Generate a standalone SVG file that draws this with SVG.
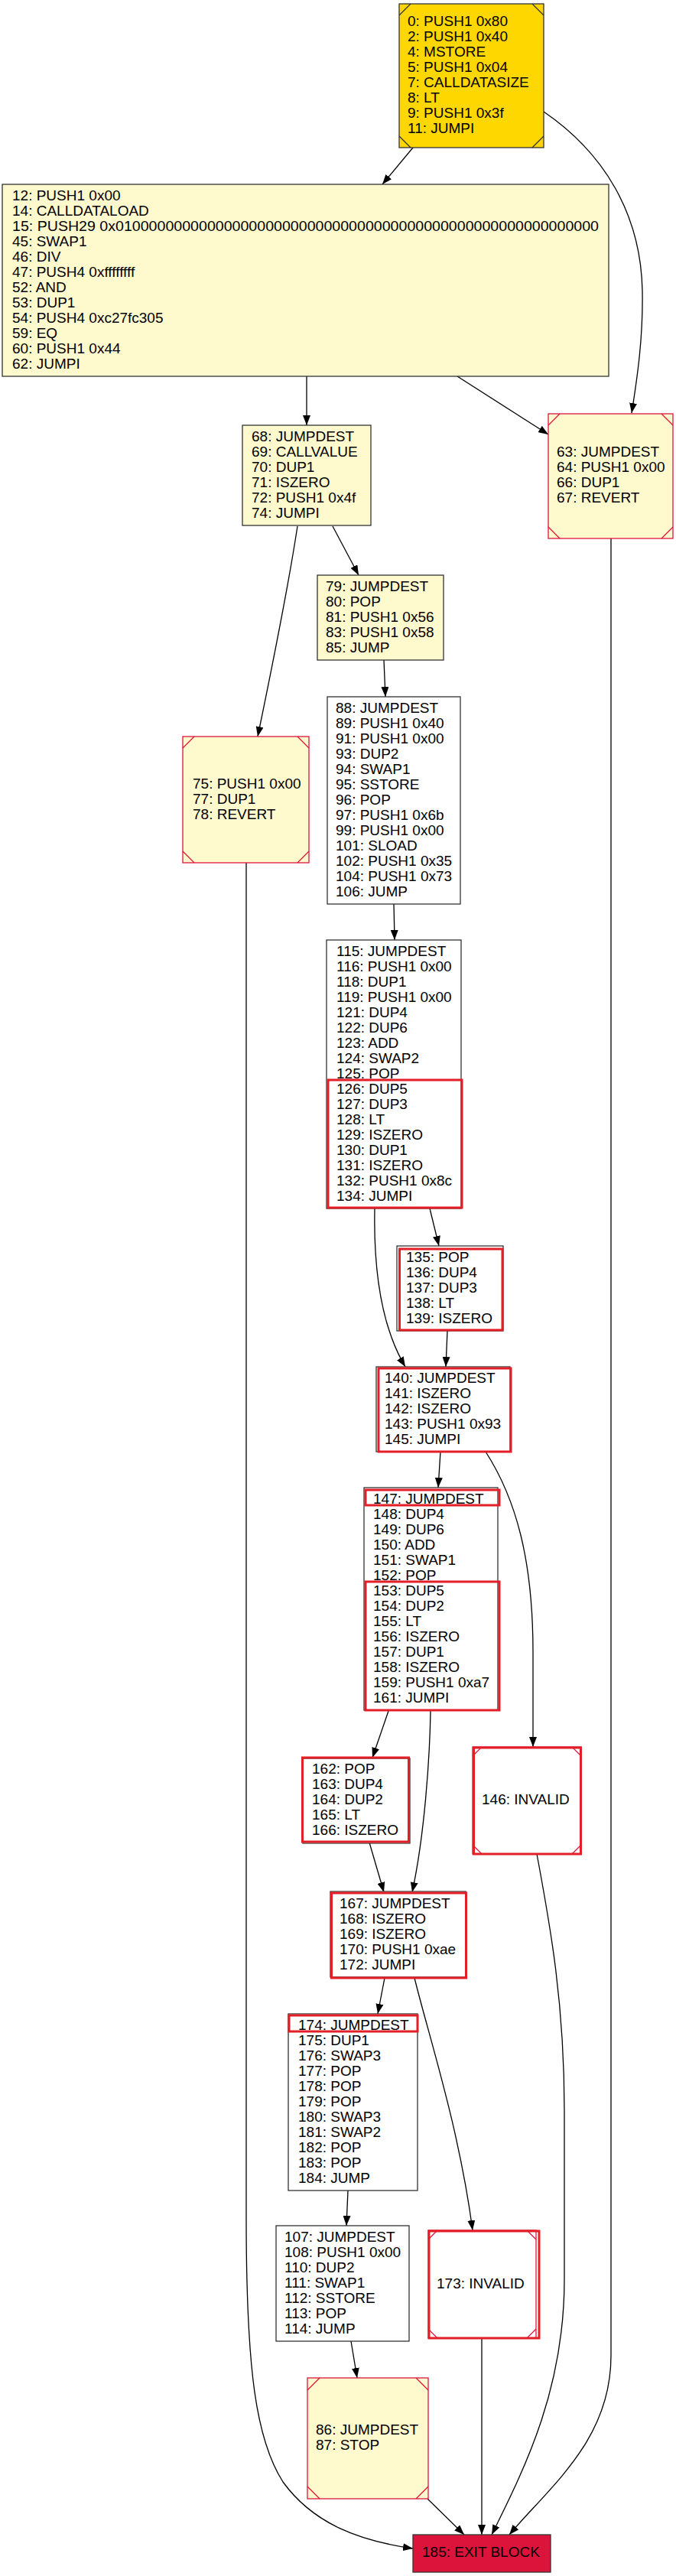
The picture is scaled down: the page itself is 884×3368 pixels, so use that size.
<svg xmlns="http://www.w3.org/2000/svg" width="884" height="3368" viewBox="0 0 884 3368">
<style>
text{font-family:"Liberation Sans",Arial,sans-serif;font-size:19px;fill:#000}
.box{stroke:#333;stroke-width:1.3}
.ms{stroke:#dc143c;stroke-width:1.3}
.msb{stroke:#333;stroke-width:1.3}
.cut{fill:none;stroke:#dc143c;stroke-width:1.3}
.cutb{fill:none;stroke:#333;stroke-width:1.3}
.hl{fill:none;stroke:#e41e26;stroke-width:3}
.lc{fill:#fffacd}
.wh{fill:#fff}
.edge{fill:none;stroke:#000;stroke-width:1.3;marker-end:url(#ah)}
</style>
<defs>
<marker id="ah" markerUnits="userSpaceOnUse" markerWidth="13" markerHeight="10" viewBox="0 0 13 10" refX="13" refY="5" orient="auto">
<path d="M0,0 L13,5 L0,10 z" fill="#000"/>
</marker>
</defs>
<rect width="884" height="3368" fill="#fff"/>
<g id="edges">
<path class="edge" d="M540,193 L500,241"/>
<path class="edge" d="M711,146 C790,200 838,280 840,380 C841,440 834,490 826,540"/>
<path class="edge" d="M401,492 L401,556"/>
<path class="edge" d="M598,492 L717,568"/>
<path class="edge" d="M435,688 L469,752"/>
<path class="edge" d="M389,688 C375,780 350,900 337,963"/>
<path class="edge" d="M502,863 L504,911"/>
<path class="edge" d="M322,1128 L322,2900 C322,3100 335,3190 370,3245 C410,3300 470,3322 540,3332"/>
<path class="edge" d="M515,1182 L516,1229"/>
<path class="edge" d="M562,1580 L574,1629"/>
<path class="edge" d="M490,1580 C488,1680 505,1745 530,1787"/>
<path class="edge" d="M585,1740 L583,1787"/>
<path class="edge" d="M576,1898 L573,1945"/>
<path class="edge" d="M635,1898 C675,1960 697,2040 697,2160 L697,2284"/>
<path class="edge" d="M508,2237 L487,2298"/>
<path class="edge" d="M563,2237 C562,2300 555,2400 539,2474"/>
<path class="edge" d="M483,2409 L502,2474"/>
<path class="edge" d="M702,2424 C720,2520 738,2620 738,2760 L738,2980 C738,3120 690,3220 643,3314"/>
<path class="edge" d="M503,2586 L494,2633"/>
<path class="edge" d="M542,2586 C560,2660 600,2780 618,2916"/>
<path class="edge" d="M455,2864 L453,2910"/>
<path class="edge" d="M459,3061 L467,3109"/>
<path class="edge" d="M559,3267 L607,3314"/>
<path class="edge" d="M630,3057 L630,3314"/>
<path class="edge" d="M799,704 L799,3080 C799,3190 720,3250 666,3314"/>
</g>
<g id="n0">
<rect x="522" y="5" width="189" height="188" fill="#ffd700" class="msb"/>
<path class="cutb" d="M537,5 L522,20 M696,5 L711,20 M522,178 L537,193 M711,178 L696,193"/>
<text x="533" y="34"><tspan x="533">0: PUSH1 0x80</tspan><tspan x="533" dy="20">2: PUSH1 0x40</tspan><tspan x="533" dy="20">4: MSTORE</tspan><tspan x="533" dy="20">5: PUSH1 0x04</tspan><tspan x="533" dy="20">7: CALLDATASIZE</tspan><tspan x="533" dy="20">8: LT</tspan><tspan x="533" dy="20">9: PUSH1 0x3f</tspan><tspan x="533" dy="20">11: JUMPI</tspan></text>
</g>
<g id="n12">
<rect x="3" y="241" width="793" height="251" class="box lc"/>
<text x="16" y="262"><tspan x="16">12: PUSH1 0x00</tspan><tspan x="16" dy="20">14: CALLDATALOAD</tspan></text>
<text x="16" y="302" textLength="767" lengthAdjust="spacingAndGlyphs">15: PUSH29 0x0100000000000000000000000000000000000000000000000000000000</text>
<text x="16" y="322"><tspan x="16">45: SWAP1</tspan><tspan x="16" dy="20">46: DIV</tspan><tspan x="16" dy="20">47: PUSH4 0xffffffff</tspan><tspan x="16" dy="20">52: AND</tspan><tspan x="16" dy="20">53: DUP1</tspan><tspan x="16" dy="20">54: PUSH4 0xc27fc305</tspan><tspan x="16" dy="20">59: EQ</tspan><tspan x="16" dy="20">60: PUSH1 0x44</tspan><tspan x="16" dy="20">62: JUMPI</tspan></text>
</g>
<g id="n63">
<rect x="717" y="541" width="163" height="163" class="ms lc"/>
<path class="cut" d="M732,541 L717,556 M865,541 L880,556 M717,689 L732,704 M880,689 L865,704"/>
<text x="728" y="597"><tspan x="728">63: JUMPDEST</tspan><tspan x="728" dy="20">64: PUSH1 0x00</tspan><tspan x="728" dy="20">66: DUP1</tspan><tspan x="728" dy="20">67: REVERT</tspan></text>
</g>
<g id="n68">
<rect x="317" y="556" width="168" height="131" class="box lc"/>
<text x="329" y="577"><tspan x="329">68: JUMPDEST</tspan><tspan x="329" dy="20">69: CALLVALUE</tspan><tspan x="329" dy="20">70: DUP1</tspan><tspan x="329" dy="20">71: ISZERO</tspan><tspan x="329" dy="20">72: PUSH1 0x4f</tspan><tspan x="329" dy="20">74: JUMPI</tspan></text>
</g>
<g id="n79">
<rect x="415" y="752" width="165" height="111" class="box lc"/>
<text x="426" y="773"><tspan x="426">79: JUMPDEST</tspan><tspan x="426" dy="20">80: POP</tspan><tspan x="426" dy="20">81: PUSH1 0x56</tspan><tspan x="426" dy="20">83: PUSH1 0x58</tspan><tspan x="426" dy="20">85: JUMP</tspan></text>
</g>
<g id="n75">
<rect x="239" y="963" width="165" height="165" class="ms lc"/>
<path class="cut" d="M254,963 L239,978 M389,963 L404,978 M239,1113 L254,1128 M404,1113 L389,1128"/>
<text x="252" y="1031"><tspan x="252">75: PUSH1 0x00</tspan><tspan x="252" dy="20">77: DUP1</tspan><tspan x="252" dy="20">78: REVERT</tspan></text>
</g>
<g id="n88">
<rect x="428" y="911" width="174" height="271" class="box wh"/>
<text x="439" y="932"><tspan x="439">88: JUMPDEST</tspan><tspan x="439" dy="20">89: PUSH1 0x40</tspan><tspan x="439" dy="20">91: PUSH1 0x00</tspan><tspan x="439" dy="20">93: DUP2</tspan><tspan x="439" dy="20">94: SWAP1</tspan><tspan x="439" dy="20">95: SSTORE</tspan><tspan x="439" dy="20">96: POP</tspan><tspan x="439" dy="20">97: PUSH1 0x6b</tspan><tspan x="439" dy="20">99: PUSH1 0x00</tspan><tspan x="439" dy="20">101: SLOAD</tspan><tspan x="439" dy="20">102: PUSH1 0x35</tspan><tspan x="439" dy="20">104: PUSH1 0x73</tspan><tspan x="439" dy="20">106: JUMP</tspan></text>
</g>
<g id="n115">
<rect x="427" y="1229" width="176" height="351" class="box wh"/>
<text x="440" y="1250"><tspan x="440">115: JUMPDEST</tspan><tspan x="440" dy="20">116: PUSH1 0x00</tspan><tspan x="440" dy="20">118: DUP1</tspan><tspan x="440" dy="20">119: PUSH1 0x00</tspan><tspan x="440" dy="20">121: DUP4</tspan><tspan x="440" dy="20">122: DUP6</tspan><tspan x="440" dy="20">123: ADD</tspan><tspan x="440" dy="20">124: SWAP2</tspan><tspan x="440" dy="20">125: POP</tspan><tspan x="440" dy="20">126: DUP5</tspan><tspan x="440" dy="20">127: DUP3</tspan><tspan x="440" dy="20">128: LT</tspan><tspan x="440" dy="20">129: ISZERO</tspan><tspan x="440" dy="20">130: DUP1</tspan><tspan x="440" dy="20">131: ISZERO</tspan><tspan x="440" dy="20">132: PUSH1 0x8c</tspan><tspan x="440" dy="20">134: JUMPI</tspan></text>
<rect class="hl" x="429" y="1412" width="175" height="167"/>
</g>
<g id="n135">
<rect x="519" y="1629" width="139" height="111" class="box wh"/>
<text x="531" y="1650"><tspan x="531">135: POP</tspan><tspan x="531" dy="20">136: DUP4</tspan><tspan x="531" dy="20">137: DUP3</tspan><tspan x="531" dy="20">138: LT</tspan><tspan x="531" dy="20">139: ISZERO</tspan></text>
<rect class="hl" x="522.5" y="1633" width="134.5" height="106"/>
</g>
<g id="n140">
<rect x="492" y="1787" width="175" height="111" class="box wh"/>
<text x="503" y="1808"><tspan x="503">140: JUMPDEST</tspan><tspan x="503" dy="20">141: ISZERO</tspan><tspan x="503" dy="20">142: ISZERO</tspan><tspan x="503" dy="20">143: PUSH1 0x93</tspan><tspan x="503" dy="20">145: JUMPI</tspan></text>
<rect class="hl" x="495" y="1789" width="173" height="109"/>
</g>
<g id="n147">
<rect x="476" y="1945" width="175" height="291" class="box wh"/>
<text x="488" y="1966"><tspan x="488">147: JUMPDEST</tspan><tspan x="488" dy="20">148: DUP4</tspan><tspan x="488" dy="20">149: DUP6</tspan><tspan x="488" dy="20">150: ADD</tspan><tspan x="488" dy="20">151: SWAP1</tspan><tspan x="488" dy="20">152: POP</tspan><tspan x="488" dy="20">153: DUP5</tspan><tspan x="488" dy="20">154: DUP2</tspan><tspan x="488" dy="20">155: LT</tspan><tspan x="488" dy="20">156: ISZERO</tspan><tspan x="488" dy="20">157: DUP1</tspan><tspan x="488" dy="20">158: ISZERO</tspan><tspan x="488" dy="20">159: PUSH1 0xa7</tspan><tspan x="488" dy="20">161: JUMPI</tspan></text>
<rect class="hl" x="478" y="1948" width="175" height="20"/>
<rect class="hl" x="478" y="2068" width="175" height="168"/>
</g>
<g id="n146">
<rect x="618" y="2284" width="142" height="140" class="ms wh"/>
<path class="cut" d="M630,2284 L618,2296 M748,2284 L760,2296 M618,2412 L630,2424 M760,2412 L748,2424"/>
<rect class="hl" x="619.5" y="2285" width="140" height="139"/>
<text x="630" y="2359">146: INVALID</text>
</g>
<g id="n162">
<rect x="396" y="2299" width="140" height="111" class="box wh"/>
<text x="408" y="2319"><tspan x="408">162: POP</tspan><tspan x="408" dy="20">163: DUP4</tspan><tspan x="408" dy="20">164: DUP2</tspan><tspan x="408" dy="20">165: LT</tspan><tspan x="408" dy="20">166: ISZERO</tspan></text>
<rect class="hl" x="395.5" y="2298" width="139" height="110"/>
</g>
<g id="n167">
<rect x="432" y="2473" width="177" height="112" class="box wh"/>
<text x="444" y="2495"><tspan x="444">167: JUMPDEST</tspan><tspan x="444" dy="20">168: ISZERO</tspan><tspan x="444" dy="20">169: ISZERO</tspan><tspan x="444" dy="20">170: PUSH1 0xae</tspan><tspan x="444" dy="20">172: JUMPI</tspan></text>
<rect class="hl" x="433.5" y="2475" width="176" height="111"/>
</g>
<g id="n174">
<rect x="377" y="2633" width="169" height="231" class="box wh"/>
<text x="390" y="2654"><tspan x="390">174: JUMPDEST</tspan><tspan x="390" dy="20">175: DUP1</tspan><tspan x="390" dy="20">176: SWAP3</tspan><tspan x="390" dy="20">177: POP</tspan><tspan x="390" dy="20">178: POP</tspan><tspan x="390" dy="20">179: POP</tspan><tspan x="390" dy="20">180: SWAP3</tspan><tspan x="390" dy="20">181: SWAP2</tspan><tspan x="390" dy="20">182: POP</tspan><tspan x="390" dy="20">183: POP</tspan><tspan x="390" dy="20">184: JUMP</tspan></text>
<rect class="hl" x="378" y="2635" width="168" height="21"/>
</g>
<g id="n107">
<rect x="361" y="2910" width="174" height="151" class="box wh"/>
<text x="372" y="2931"><tspan x="372">107: JUMPDEST</tspan><tspan x="372" dy="20">108: PUSH1 0x00</tspan><tspan x="372" dy="20">110: DUP2</tspan><tspan x="372" dy="20">111: SWAP1</tspan><tspan x="372" dy="20">112: SSTORE</tspan><tspan x="372" dy="20">113: POP</tspan><tspan x="372" dy="20">114: JUMP</tspan></text>
</g>
<g id="n173">
<rect x="560" y="2916" width="141" height="141" class="ms wh"/>
<path class="cut" d="M572,2916 L560,2928 M689,2916 L701,2928 M560,3045 L572,3057 M701,3045 L689,3057"/>
<rect class="hl" x="561" y="2917" width="144" height="140"/>
<text x="571" y="2992">173: INVALID</text>
</g>
<g id="n86">
<rect x="402" y="3109" width="158" height="158" class="ms lc"/>
<path class="cut" d="M418,3109 L402,3125 M544,3109 L560,3125 M402,3251 L418,3267 M560,3251 L544,3267"/>
<text x="413" y="3183"><tspan x="413">86: JUMPDEST</tspan><tspan x="413" dy="20">87: STOP</tspan></text>
</g>
<g id="n185">
<rect x="540" y="3314" width="180" height="49" fill="#dc143c" class="box"/>
<text x="552" y="3343">185: EXIT BLOCK</text>
</g>
</svg>
